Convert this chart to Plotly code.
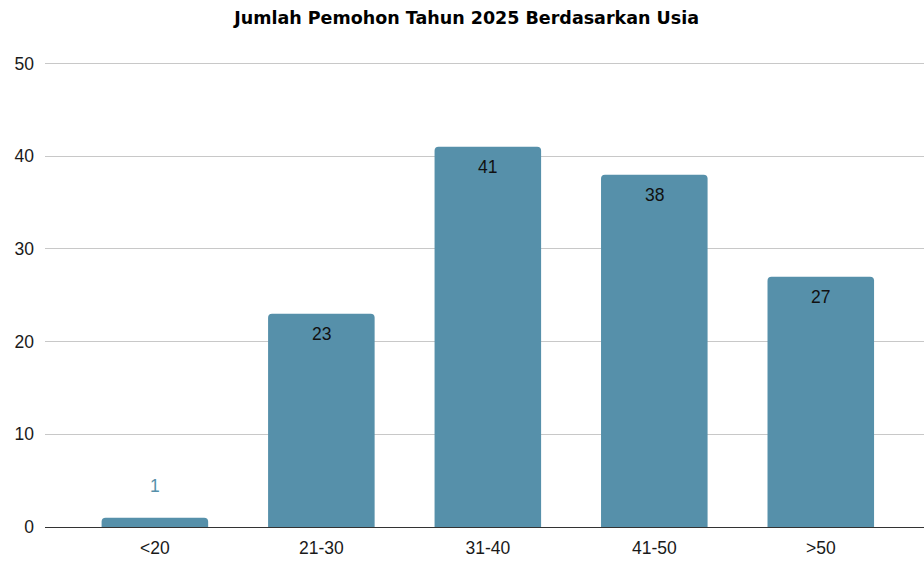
import plotly.graph_objects as go

categories = ["<20", "21-30", "31-40", "41-50", ">50"]
values = [1, 23, 41, 38, 27]
y_ticks = [0, 10, 20, 30, 40, 50]

bar_color = "#5690aa"

fig = go.Figure()
fig.add_trace(go.Bar(
    x=categories, y=values, marker=dict(color=bar_color, line=dict(width=0)),
    width=0.64, hoverinfo="skip",
))

annotations = []
for c, v in zip(categories, values):
    if v >= 5:
        annotations.append(dict(x=c, y=v, text=str(v), showarrow=False, yshift=-20,
                                font=dict(family="Liberation Sans, Arial", size=17.5, color="#111111")))
    else:
        annotations.append(dict(x=c, y=v, text=str(v), showarrow=False, yshift=32,
                                font=dict(family="Liberation Sans, Arial", size=17.5, color=bar_color)))

fig.update_layout(
    width=924, height=561,
    margin=dict(l=45, r=0, t=62, b=34),
    paper_bgcolor="white", plot_bgcolor="white",
    barcornerradius=4,
    showlegend=False,
    title=dict(text="<b>Jumlah Pemohon Tahun 2025 Berdasarkan Usia</b>", x=0.505, xanchor="center",
               y=0.968, yanchor="middle",
               font=dict(family="DejaVu Sans", size=17.5, color="#000000")),
    annotations=annotations,
    xaxis=dict(range=[-0.66, 4.62], showgrid=False, showline=False, zeroline=False,
               tickfont=dict(family="Liberation Sans, Arial", size=17.5, color="#1a1a1a"),
               ticks="", ticklabelstandoff=8),
    yaxis=dict(range=[0, 50.15], tickvals=y_ticks, showgrid=True, gridcolor="#c8c8c8", gridwidth=1,
               zeroline=True, zerolinecolor="#333333", zerolinewidth=1,
               tickfont=dict(family="Liberation Sans, Arial", size=17.5, color="#1a1a1a"),
               ticks="", ticklabelstandoff=10),
)

fig.write_html("out.html", config={"displayModeBar": False})

with open("out.html", "r", encoding="utf-8") as f:
    html = f.read()
html = html.replace("<body>", '<body style="margin:0;padding:0;overflow:hidden">', 1)
with open("out.html", "w", encoding="utf-8") as f:
    f.write(html)
